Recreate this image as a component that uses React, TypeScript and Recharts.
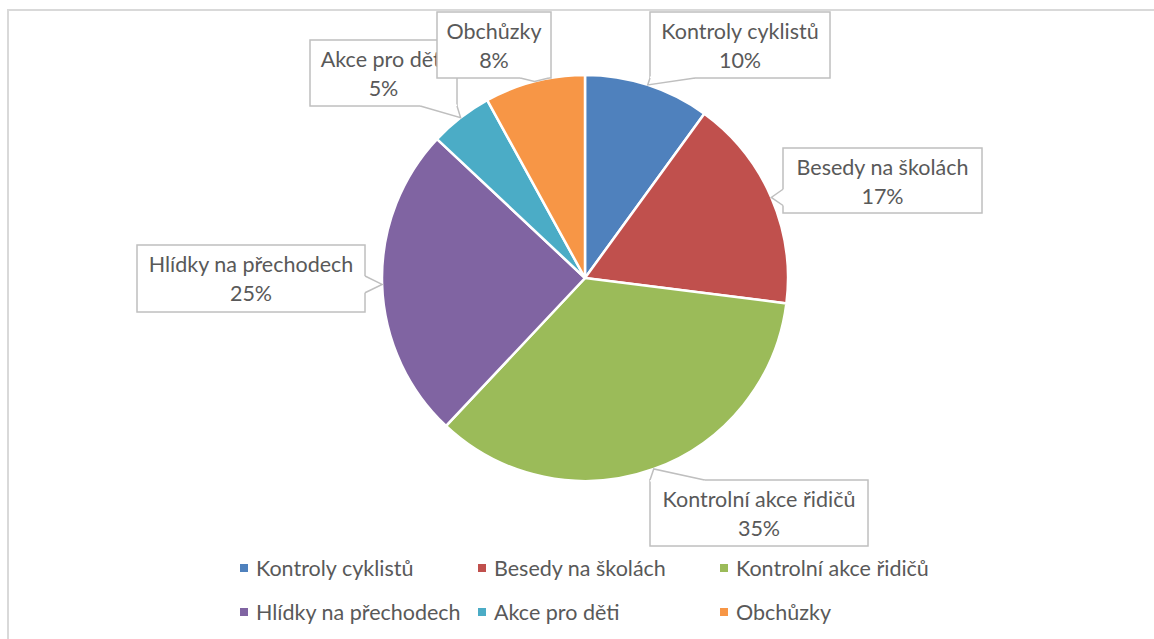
import { PieChart, Pie, Cell, Legend } from "recharts";

const categories = [
  "Kontroly cyklistů",
  "Besedy na školách",
  "Kontrolní akce řidičů",
  "Hlídky na přechodech",
  "Akce pro děti",
  "Obchůzky",
];
const shares = [10, 17, 35, 25, 5, 8];
const colors = ["#4F81BD", "#C0504D", "#9BBB59", "#8064A2", "#4BACC6", "#F79646"];

const data = categories.map((name, i) => ({ name, value: shares[i] }));

// callout boxes (layout only)
const boxes = [
  { x: 650, y: 12, w: 180, h: 66 },
  { x: 783, y: 148, w: 199, h: 65 },
  { x: 650, y: 480, w: 218, h: 66 },
  { x: 137, y: 245, w: 228, h: 67 },
  { x: 310, y: 40, w: 147, h: 66 },
  { x: 437, y: 12, w: 114, h: 66 },
];

// legend grid (layout only)
const legendCols = [240, 478, 720];
const legendRows = [568, 612];

const FONT = "Lato, 'Liberation Sans', sans-serif";
const TEXT = "#595959";
const BORDER = "#bfbfbf";
const RAD = Math.PI / 180;

const renderLabel = (props: any) => {
  const { cx, cy, midAngle, outerRadius, index, percent, name } = props;
  const b = boxes[index];
  const tx = cx + outerRadius * Math.cos(-midAngle * RAD);
  const ty = cy + outerRadius * Math.sin(-midAngle * RAD);

  // wedge base on the side of the box facing the tip
  let p1: number[], p2: number[], i1: number[], i2: number[];
  if (ty > b.y + b.h || ty < b.y) {
    const ey = ty > b.y + b.h ? b.y + b.h : b.y;
    const inward = ty > b.y + b.h ? -1.5 : 1.5;
    const w = b.w * 0.25;
    const c = Math.min(Math.max(tx, b.x + w / 2), b.x + b.w - w / 2);
    p1 = [c - w / 2, ey];
    p2 = [c + w / 2, ey];
    i1 = [c - w / 2, ey + inward];
    i2 = [c + w / 2, ey + inward];
  } else {
    const ex = tx < b.x ? b.x : b.x + b.w;
    const inward = tx < b.x ? 1.5 : -1.5;
    const w = b.h * 0.25;
    const c = Math.min(Math.max(ty, b.y + w / 2), b.y + b.h - w / 2);
    p1 = [ex, c - w / 2];
    p2 = [ex, c + w / 2];
    i1 = [ex + inward, c - w / 2];
    i2 = [ex + inward, c + w / 2];
  }

  return (
    <g>
      <rect x={b.x} y={b.y} width={b.w} height={b.h} fill="#fff" stroke={BORDER} strokeWidth={1.5} />
      <polygon
        points={`${i1.join(",")} ${p1.join(",")} ${tx},${ty} ${p2.join(",")} ${i2.join(",")}`}
        fill="#fff"
        stroke="none"
      />
      <polyline
        points={`${p1.join(",")} ${tx},${ty} ${p2.join(",")}`}
        fill="none"
        stroke={BORDER}
        strokeWidth={1.5}
      />
      <text
        x={b.x + b.w / 2}
        y={b.y + 19}
        textAnchor="middle"
        dominantBaseline="central"
        fill={TEXT}
        fontSize={21.5}
        fontFamily={FONT}
      >
        {name}
      </text>
      <text
        x={b.x + b.w / 2}
        y={b.y + 48}
        textAnchor="middle"
        dominantBaseline="central"
        fill={TEXT}
        fontSize={21.5}
        fontFamily={FONT}
      >
        {`${Math.round(percent * 100)}%`}
      </text>
    </g>
  );
};

const renderLegend = () => (
  <div style={{ position: "relative", width: 1154, height: 80 }}>
    {categories.map((name, i) => (
      <div
        key={name}
        style={{
          position: "absolute",
          left: legendCols[i % 3],
          top: legendRows[Math.floor(i / 3)] - 552 - 12,
          height: 24,
          display: "flex",
          alignItems: "center",
          fontFamily: FONT,
          fontSize: 21.5,
          color: TEXT,
          whiteSpace: "nowrap",
        }}
      >
        <span style={{ width: 8, height: 8, background: colors[i], marginRight: 8, display: "inline-block" }} />
        {name}
      </div>
    ))}
  </div>
);

export default function App() {
  return (
    <div
      style={{
        position: "absolute",
        top: 0,
        left: 0,
        width: 1154,
        height: 639,
        overflow: "hidden",
        background: "#fff",
      }}
    >
      <div
        style={{
          position: "absolute",
          left: 7,
          top: 9,
          width: 1200,
          height: 700,
          border: "2px solid #d9d9d9",
        }}
      />
      <div style={{ position: "absolute", left: 0, top: 0 }}>
        <PieChart width={1154} height={639} margin={{ top: 0, right: 0, bottom: 0, left: 0 }}>
          <Pie
            data={data}
            dataKey="value"
            nameKey="name"
            cx={585}
            cy={278}
            outerRadius={203}
            startAngle={90}
            endAngle={-270}
            stroke="#fff"
            strokeWidth={2.5}
            label={renderLabel}
            labelLine={false}
            isAnimationActive={false}
          >
            {data.map((d, i) => (
              <Cell key={d.name} fill={colors[i]} />
            ))}
          </Pie>
          <Legend
            content={renderLegend}
            wrapperStyle={{ position: "absolute", top: 552, left: 0, width: 1154, height: 80 }}
          />
        </PieChart>
      </div>
    </div>
  );
}
